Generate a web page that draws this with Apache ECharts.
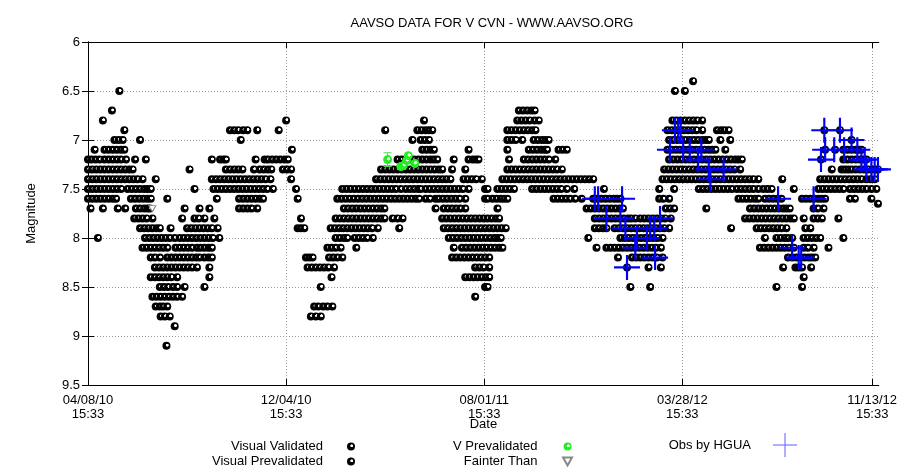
<!DOCTYPE html>
<html><head><meta charset="utf-8">
<script src="https://cdn.jsdelivr.net/npm/echarts@6/dist/echarts.min.js"></script>
<style>html,body{margin:0;padding:0;background:#fff}#c{width:900px;height:473px}</style>
</head><body><div id="c"></div>
<script>
// x values are days since 04/08/10 15:33
const titleText = 'AAVSO DATA FOR V CVN - WWW.AAVSO.ORG';
const xTickDays = [0, 240, 480, 720, 950];
const xTickLabels = ['04/08/10\n15:33', '12/04/10\n15:33', '08/01/11\n15:33', '03/28/12\n15:33', '11/13/12\n15:33'];
const yTickLabels = ['6', '6.5', '7', '7.5', '8', '8.5', '9', '9.5'];

// [magnitude, [days...]]
const visualValidatedRows = [
  [6.4, [733]],
  [6.5, [38, 711, 723]],
  [6.7, [29, 522, 527, 532, 537, 541]],
  [6.8, [18, 240, 407, 520, 525, 530, 535, 541, 546, 708, 713, 718, 723, 728, 733, 738, 744]],
  [6.9, [44, 172, 177, 182, 188, 193, 205, 231, 360, 399, 404, 409, 413, 417, 508, 513, 518, 523, 528, 533, 538, 542, 702, 707, 712, 717, 722, 727, 732, 737, 744, 762, 767, 771, 776, 892, 911]],
  [7.0, [32, 37, 42, 63, 185, 393, 403, 408, 413, 508, 513, 518, 526, 540, 545, 550, 554, 558, 704, 709, 714, 719, 724, 729, 734, 739, 744, 748, 752, 766, 778, 925]],
  [7.1, [8, 20, 25, 30, 35, 40, 44, 247, 405, 410, 415, 419, 461, 508, 534, 539, 544, 549, 553, 556, 570, 575, 580, 702, 707, 712, 717, 722, 727, 732, 737, 742, 747, 752, 756, 760, 772, 893, 905, 915, 920, 925, 930, 934, 937]],
  [7.2, [0, 4, 9, 14, 20, 25, 30, 35, 40, 46, 57, 70, 150, 160, 164, 167, 203, 214, 218, 223, 228, 233, 238, 242, 375, 380, 385, 390, 395, 400, 405, 410, 415, 419, 423, 443, 461, 466, 470, 473, 510, 528, 533, 538, 543, 548, 553, 558, 566, 704, 709, 714, 719, 724, 729, 734, 739, 744, 749, 754, 759, 764, 769, 774, 779, 784, 788, 792, 888, 915, 920, 925, 930, 935, 939, 943]],
  [7.3, [0, 5, 10, 15, 20, 25, 30, 35, 40, 45, 50, 54, 123, 167, 172, 177, 182, 187, 201, 208, 213, 218, 222, 236, 241, 246, 355, 360, 365, 370, 375, 380, 385, 390, 395, 400, 405, 410, 415, 420, 425, 429, 441, 457, 508, 513, 518, 523, 528, 533, 538, 543, 548, 553, 558, 563, 568, 574, 698, 703, 708, 713, 718, 723, 728, 733, 738, 743, 748, 753, 758, 763, 768, 773, 778, 783, 790, 901, 913, 917, 921, 925, 930, 935, 940, 945]],
  [7.4, [0, 5, 10, 15, 20, 25, 30, 35, 40, 45, 50, 55, 60, 66, 82, 150, 155, 160, 165, 170, 175, 180, 185, 190, 195, 200, 205, 210, 215, 221, 246, 349, 354, 359, 364, 369, 374, 379, 384, 389, 394, 399, 404, 409, 414, 419, 424, 429, 434, 439, 455, 460, 465, 470, 477, 502, 507, 512, 517, 522, 527, 532, 537, 542, 547, 552, 557, 562, 567, 572, 577, 582, 587, 592, 597, 602, 607, 612, 696, 701, 706, 711, 716, 721, 726, 731, 736, 741, 746, 751, 756, 761, 766, 771, 776, 781, 786, 791, 796, 801, 806, 812, 841, 887, 892, 897, 902, 907, 912, 917, 922, 927, 932, 937, 943]],
  [7.5, [0, 5, 10, 15, 20, 25, 30, 35, 40, 48, 53, 58, 63, 68, 72, 76, 129, 152, 157, 162, 167, 172, 177, 182, 187, 192, 197, 202, 207, 212, 217, 224, 252, 308, 313, 318, 323, 328, 333, 338, 343, 348, 353, 358, 363, 368, 373, 379, 385, 390, 395, 400, 403, 409, 414, 419, 424, 429, 434, 439, 444, 449, 454, 461, 481, 484, 496, 501, 506, 511, 516, 538, 543, 548, 553, 558, 563, 568, 573, 580, 589, 625, 692, 710, 740, 745, 750, 755, 760, 765, 770, 775, 780, 786, 791, 796, 801, 806, 812, 818, 823, 828, 855, 885, 890, 895, 900, 905, 910, 915, 923, 928, 933, 938, 943]],
  [7.6, [0, 5, 10, 15, 20, 25, 30, 34, 52, 57, 62, 67, 72, 76, 96, 156, 183, 188, 193, 198, 203, 208, 212, 254, 302, 307, 312, 317, 322, 327, 332, 337, 342, 347, 352, 357, 362, 367, 372, 377, 382, 387, 392, 397, 401, 409, 414, 421, 425, 430, 435, 440, 445, 450, 457, 481, 484, 490, 495, 500, 504, 508, 564, 569, 574, 579, 584, 590, 598, 612, 617, 622, 627, 632, 637, 641, 645, 692, 697, 704, 788, 793, 798, 803, 808, 812, 820, 825, 830, 835, 840, 865, 870, 875, 880, 885, 889, 893, 923, 929]],
  [7.7, [3, 18, 36, 45, 58, 63, 68, 72, 75, 117, 135, 147, 183, 188, 193, 198, 205, 310, 315, 320, 325, 330, 335, 340, 345, 350, 355, 359, 421, 431, 436, 441, 446, 451, 457, 496, 604, 609, 614, 619, 624, 629, 634, 639, 644, 648, 700, 705, 710, 749, 802, 807, 812, 817, 822, 827, 832, 837, 842, 846, 850, 879, 884, 891]],
  [7.8, [56, 61, 66, 71, 78, 114, 129, 134, 141, 153, 258, 300, 305, 310, 315, 320, 325, 330, 335, 340, 345, 350, 355, 359, 369, 375, 381, 429, 434, 439, 444, 449, 454, 459, 464, 469, 474, 479, 484, 489, 494, 498, 614, 619, 624, 629, 634, 639, 644, 649, 654, 658, 663, 669, 674, 679, 684, 689, 694, 699, 706, 796, 801, 806, 811, 816, 821, 826, 831, 836, 841, 846, 851, 855, 867, 879, 884, 889, 909]],
  [7.9, [63, 68, 73, 78, 83, 87, 100, 120, 125, 130, 135, 140, 145, 150, 157, 254, 258, 262, 294, 299, 304, 309, 314, 319, 324, 329, 334, 339, 344, 351, 377, 431, 436, 441, 446, 451, 456, 461, 466, 471, 476, 481, 486, 491, 496, 501, 506, 614, 619, 624, 628, 638, 643, 648, 653, 658, 663, 668, 673, 678, 683, 688, 693, 698, 704, 779, 810, 815, 820, 825, 830, 835, 840, 846, 869, 875]],
  [8.0, [12, 69, 74, 79, 84, 89, 94, 99, 105, 111, 116, 121, 126, 131, 136, 141, 146, 151, 159, 300, 305, 310, 314, 323, 328, 333, 338, 345, 437, 442, 447, 452, 457, 462, 467, 472, 477, 482, 487, 492, 496, 500, 606, 645, 650, 655, 660, 665, 670, 675, 680, 685, 690, 696, 820, 834, 839, 844, 848, 853, 867, 872, 877, 882, 887, 915]],
  [8.1, [66, 71, 76, 81, 86, 91, 96, 106, 111, 116, 121, 126, 132, 136, 141, 146, 150, 290, 295, 300, 306, 325, 443, 453, 458, 463, 468, 473, 478, 483, 488, 493, 498, 502, 616, 628, 633, 638, 643, 648, 653, 658, 663, 668, 673, 678, 683, 688, 694, 814, 819, 824, 829, 834, 839, 844, 849, 855, 867, 872, 879, 897]],
  [8.2, [76, 81, 87, 96, 101, 106, 111, 116, 121, 126, 131, 135, 141, 146, 150, 264, 268, 272, 292, 297, 302, 308, 441, 446, 451, 456, 461, 466, 471, 476, 481, 486, 642, 659, 664, 669, 674, 679, 684, 689, 696, 848, 853, 858, 863, 868, 873, 877, 881]],
  [8.3, [81, 86, 91, 96, 101, 106, 111, 116, 121, 126, 132, 147, 266, 271, 276, 281, 286, 291, 298, 469, 474, 479, 486, 653, 679, 694, 842, 857, 861, 865, 876]],
  [8.4, [76, 81, 86, 91, 96, 101, 108, 147, 295, 457, 462, 467, 472, 477, 482, 486, 867]],
  [8.5, [87, 92, 97, 103, 108, 117, 141, 282, 481, 484, 657, 681, 834, 865]],
  [8.6, [78, 83, 88, 93, 98, 103, 108, 114, 469]],
  [8.7, [82, 87, 91, 96, 274, 279, 285, 290, 296]],
  [8.8, [88, 93, 99, 270, 276, 282]],
  [8.9, [105]],
  [9.1, [95]]
];
const visualPrevalidatedRows = [
  [7.3, [950, 954, 957]],
  [7.4, [948, 953]],
  [7.5, [949, 955]],
  [7.6, [949]],
  [7.65, [957]]
];
// [day, magnitude]
const vPrevalidatedPoints = [[363, 7.2], [379, 7.27], [382, 7.26], [386, 7.21], [388, 7.16], [396, 7.24]];
// [day, low, high]
const vPrevalidatedErrors = [[363, 7.13, 7.27]];
const fainterThanPoints = [[78, 7.7]];
const hguaPoints = [
  [614, 7.6], [618, 7.6], [628, 7.8], [645, 7.8], [647, 7.6], [651, 7.9], [653, 8.3], [663, 8.1], [665, 8.0],
  [677, 8.0], [681, 7.9], [686, 7.9], [687, 8.2], [693, 7.8], [705, 7.1], [711, 6.9], [715, 6.9], [718, 6.9],
  [721, 7.1], [729, 7.1], [739, 7.2], [743, 7.1], [752, 7.3], [754, 7.4], [770, 7.3],
  [836, 7.6], [853, 8.1], [861, 8.2], [864, 8.2], [879, 7.6], [888, 7.2], [892, 6.9], [893, 7.1], [904, 7.1],
  [911, 6.9], [916, 7.1], [925, 7.0], [932, 7.1], [937, 7.2], [941, 7.2], [943, 7.3], [949, 7.3], [953, 7.3], [957, 7.3]
];

function expandRows(rows) {
  const out = [];
  rows.forEach(function (r) { r[1].forEach(function (d) { out.push([d, r[0]]); }); });
  return out;
}

const FONT = 'Liberation Sans';
function dotFill(c) {
  return { type: 'radial', x: 0.6, y: 0.42, r: 0.5, colorStops: [
    { offset: 0, color: '#fff' }, { offset: 0.3, color: '#fff' }, { offset: 0.42, color: c }, { offset: 1, color: c }] };
}
const grid = { left: 88, right: 16, top: 42, bottom: 88 };
const xMin = 0, xMax = 958;
const dotted = { color: '#9a9a9a', width: 1, type: [1, 2] };
const legendText = { fontSize: 13, fontFamily: FONT, color: '#000', lineHeight: 13 };

const chart = echarts.init(document.getElementById('c'), null, { renderer: 'canvas' });
chart.setOption({
  animation: false,
  backgroundColor: '#fff',
  textStyle: { fontFamily: FONT },
  title: { text: titleText, left: 487, top: 12, textAlign: 'center',
    textStyle: { fontSize: 13, fontWeight: 'normal', fontFamily: FONT, color: '#000' } },
  grid: grid,
  legend: [
    { data: ['Visual Validated', 'Visual Prevalidated'], orient: 'vertical', align: 'right', right: 545, top: 440,
      itemWidth: 46, itemHeight: 8, itemGap: 2, padding: 0, selectedMode: false, textStyle: legendText },
    { data: ['V Prevalidated', 'Fainter Than'], orient: 'vertical', align: 'right', right: 327, top: 440,
      itemWidth: 50, itemHeight: 8, itemGap: 2, padding: 0, selectedMode: false, textStyle: legendText },
    { data: [{ name: 'Obs by HGUA', icon: 'path://M0,11.5H24V12.5H0ZM11.5,0H12.5V24H11.5Z', itemStyle: { color: '#6060ff' } }],
      orient: 'vertical', align: 'right', right: 103, top: 433, itemWidth: 58, itemHeight: 24, padding: 0, selectedMode: false,
      textStyle: { fontSize: 13, fontFamily: FONT, color: '#000' } }
  ],
  xAxis: [
    { type: 'value', min: xMin, max: xMax, position: 'bottom',
      name: 'Date', nameLocation: 'middle', nameGap: 33, nameMoveOverlap: false,
      nameTextStyle: { fontSize: 13, fontFamily: FONT, color: '#000' },
      axisLine: { show: true, lineStyle: { color: '#000', width: 1 } },
      axisTick: { show: true, inside: true, length: 6, customValues: xTickDays, lineStyle: { color: '#000' } },
      axisLabel: { customValues: xTickDays, margin: 8, fontSize: 13, lineHeight: 14, fontFamily: FONT, color: '#000',
        formatter: function (v) { const i = xTickDays.indexOf(v); return i >= 0 ? xTickLabels[i] : ''; } },
      splitLine: { show: true, lineStyle: dotted } },
    { type: 'value', min: xMin, max: xMax, position: 'top',
      axisLine: { show: true, lineStyle: { color: '#000', width: 1 } },
      axisTick: { show: true, inside: true, length: 6, customValues: xTickDays, lineStyle: { color: '#000' } },
      axisLabel: { show: false }, splitLine: { show: false } }
  ],
  yAxis: [
    { type: 'value', inverse: true, min: 6, max: 9.5, interval: 0.5, position: 'left',
      name: 'Magnitude', nameLocation: 'middle', nameGap: 50, nameRotate: 90, nameMoveOverlap: false,
      nameTextStyle: { fontSize: 13, fontFamily: FONT, color: '#000' },
      axisLine: { show: true, lineStyle: { color: '#000', width: 1 } },
      axisTick: { show: true, inside: true, length: 6, lineStyle: { color: '#000' } },
      axisLabel: { margin: 8, fontSize: 13, fontFamily: FONT, color: '#000',
        formatter: function (v) { return yTickLabels[Math.round((v - 6) / 0.5)]; } },
      splitLine: { show: true, lineStyle: dotted } },
    { type: 'value', inverse: true, min: 6, max: 9.5, interval: 0.5, position: 'right',
      axisLine: { show: true, lineStyle: { color: '#000', width: 1 } },
      axisTick: { show: true, inside: true, length: 6, lineStyle: { color: '#000' } },
      axisLabel: { show: false }, splitLine: { show: false } }
  ],
  series: [
    { name: 'Visual Validated', type: 'scatter', data: expandRows(visualValidatedRows), symbol: 'circle', symbolSize: 8,
      itemStyle: { color: dotFill('#000'), opacity: 1 }, z: 3 },
    { name: 'Visual Prevalidated', type: 'scatter', data: expandRows(visualPrevalidatedRows), symbol: 'circle', symbolSize: 8,
      itemStyle: { color: dotFill('#000'), opacity: 1 }, z: 3 },
    { name: 'V Prevalidated error', type: 'custom', data: vPrevalidatedErrors, z: 4,
      renderItem: function (params, api) {
        const top = api.coord([api.value(0), api.value(1)]);
        const bot = api.coord([api.value(0), api.value(2)]);
        const s = { stroke: '#55dd55', lineWidth: 1 };
        return { type: 'group', children: [
          { type: 'line', shape: { x1: top[0], y1: top[1], x2: bot[0], y2: bot[1] }, style: s },
          { type: 'line', shape: { x1: top[0] - 4, y1: top[1], x2: top[0] + 4, y2: top[1] }, style: s },
          { type: 'line', shape: { x1: bot[0] - 4, y1: bot[1], x2: bot[0] + 4, y2: bot[1] }, style: s }] };
      } },
    { name: 'V Prevalidated', type: 'scatter', data: vPrevalidatedPoints, symbol: 'circle', symbolSize: 9,
      itemStyle: { color: dotFill('#22ee22'), opacity: 1 }, z: 5 },
    { name: 'Fainter Than', type: 'scatter', data: fainterThanPoints, symbol: 'path://M0,0L10,0L5,9Z', symbolSize: [7, 6],
      itemStyle: { color: '#fff', borderColor: '#888', borderWidth: 1, opacity: 1 }, z: 5 },
    { name: 'Obs by HGUA', type: 'scatter', data: hguaPoints, symbol: 'path://M0,11H24V13H0ZM11,0H13V24H11Z', symbolSize: [26, 25],
      itemStyle: { color: '#0000ff', opacity: 1 }, z: 6 }
  ]
});
</script></body></html>
